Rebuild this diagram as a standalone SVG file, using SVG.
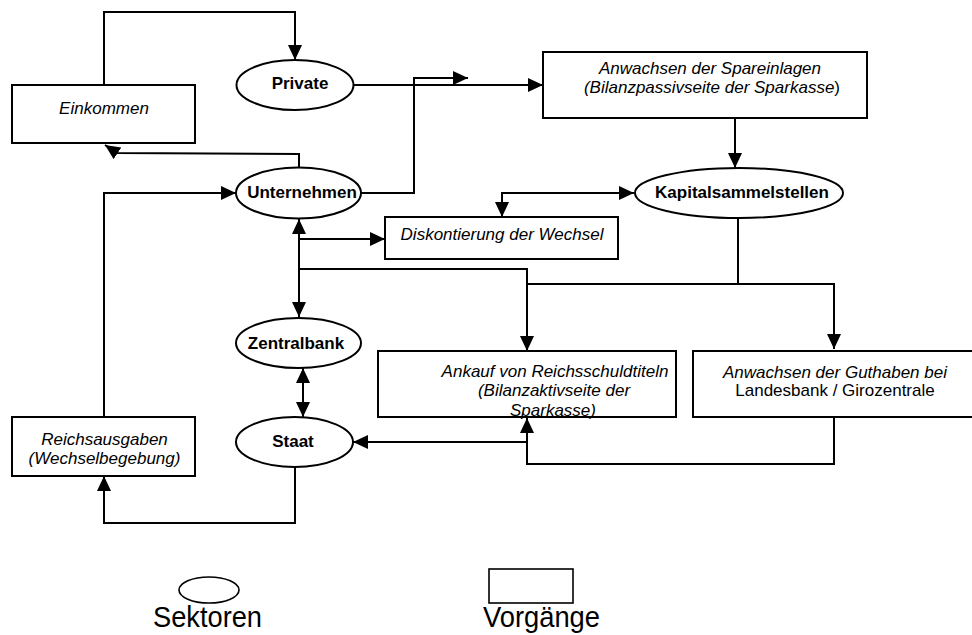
<svg xmlns="http://www.w3.org/2000/svg" width="972" height="635" viewBox="0 0 972 635">
<style>
.box{fill:#fff;stroke:#000;stroke-width:2}
.ell{fill:#fff;stroke:#000;stroke-width:2}
.lg{fill:#fff;stroke:#000;stroke-width:1.6}
.c{fill:none;stroke:#000;stroke-width:2}
.a{marker-end:url(#ah)}
.aa{marker-start:url(#ah);marker-end:url(#ah)}
text{font-family:"Liberation Sans",Arial,sans-serif;font-size:17px;fill:#000;text-anchor:middle}
.b{font-weight:bold}
.i{font-style:italic}
.leg{font-size:29px}
</style>
<defs>
<marker id="ah" viewBox="0 0 15 14" refX="15" refY="7" markerWidth="15" markerHeight="14" markerUnits="userSpaceOnUse" orient="auto-start-reverse">
<path d="M0,0 L15,7 L0,14 z" fill="#000"/>
</marker>
</defs>
<g id="connectors">
<path class="c a" d="M104,85 V12 H295 V60"/>
<path class="c a" d="M353,85 H543"/>
<path class="c a" d="M361,193 H414 V78 H468"/>
<path class="c a" d="M299,167 V154 L117,153 L105,145"/>
<path class="c a" d="M735,118 V168"/>
<path class="c aa" d="M502,217 V193 H634"/>
<path class="c" d="M738,218 V284"/>
<path class="c a" d="M527,284 H834 V349"/>
<path class="c aa" d="M299,219 V317"/>
<path class="c a" d="M299,239 H385"/>
<path class="c a" d="M299,269 H527 V351"/>
<path class="c aa" d="M303,368 V417"/>
<path class="c a" d="M295,467 V523 H104 V476"/>
<path class="c a" d="M104,417 V193 H236"/>
<path class="c a" d="M834,417 V464 H527 V418"/>
<path class="c a" d="M527,442 H353"/>
</g>
<g id="einkommen">
<rect class="box" x="12" y="85" width="183" height="58"/>
<text class="i" x="104" y="114">Einkommen</text>
</g>
<g id="private">
<ellipse class="ell" cx="295" cy="85" rx="58.5" ry="25"/>
<text class="b" x="300" y="89">Private</text>
</g>
<g id="unternehmen">
<ellipse class="ell" cx="298.5" cy="193" rx="62.5" ry="25.5"/>
<text class="b" x="302" y="198">Unternehmen</text>
</g>
<g id="spareinlagen">
<rect class="box" x="543" y="52" width="324" height="66"/>
<text class="i" x="710" y="74">Anwachsen der Spareinlagen</text>
<text x="712" y="93"><tspan class="i">(Bilanzpassivseite der Sparkasse</tspan>)</text>
</g>
<g id="kapitalsammelstellen">
<ellipse class="ell" cx="739" cy="193" rx="104" ry="25"/>
<text class="b" x="742" y="197.5">Kapitalsammelstellen</text>
</g>
<g id="diskontierung">
<rect class="box" x="385" y="217" width="233" height="42"/>
<text class="i" x="502" y="240">Diskontierung der Wechsel</text>
</g>
<g id="zentralbank">
<ellipse class="ell" cx="298.5" cy="343" rx="62.5" ry="25"/>
<text class="b" x="296" y="349">Zentralbank</text>
</g>
<g id="ankauf">
<rect class="box" x="378" y="351" width="298" height="66"/>
<text class="i" x="555" y="377">Ankauf von Reichsschuldtiteln</text>
<text class="i" x="554" y="396">(Bilanzaktivseite der</text>
<text class="i" x="553" y="416">Sparkasse)</text>
</g>
<g id="guthaben">
<rect class="box" x="693" y="351" width="282" height="66"/>
<text class="i" x="835" y="378">Anwachsen der Guthaben bei</text>
<text x="835" y="396">Landesbank / Girozentrale</text>
</g>
<g id="staat">
<ellipse class="ell" cx="294.5" cy="442" rx="58.5" ry="25"/>
<text class="b" x="293" y="447">Staat</text>
</g>
<g id="reichsausgaben">
<rect class="box" x="12" y="417" width="183" height="59"/>
<text class="i" x="104.5" y="445">Reichsausgaben</text>
<text class="i" x="104.5" y="464">(Wechselbegebung)</text>
</g>
<g id="legend-sektoren">
<ellipse class="lg" cx="209" cy="590" rx="30" ry="13"/>
<text class="leg" x="207.5" y="627" textLength="109" lengthAdjust="spacingAndGlyphs">Sektoren</text>
</g>
<g id="legend-vorgaenge">
<rect class="lg" x="489" y="569" width="84" height="34"/>
<text class="leg" x="541.5" y="627" textLength="117" lengthAdjust="spacingAndGlyphs">Vorgänge</text>
</g>
</svg>
